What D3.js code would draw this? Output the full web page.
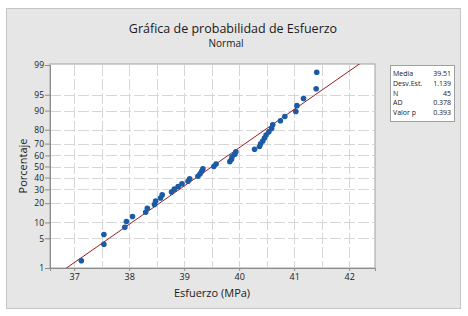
<!DOCTYPE html>
<html>
<head>
<meta charset="utf-8">
<script src="https://cdn.jsdelivr.net/npm/d3@7"></script>
<style>
    body { margin: 0; background: #ffffff; }
    text { font-family: "Open Sans", "Noto Sans", sans-serif; fill: #1a1a1a; }
</style>
</head>
<body>
<script>
// Esfuerzo values (MPa), sorted
const esfuerzo = [
    37.13, 37.54, 37.54, 37.92, 37.95, 38.06, 38.30, 38.33, 38.46, 38.48,
    38.57, 38.60, 38.77, 38.82, 38.89, 38.96, 39.07, 39.10, 39.25, 39.29,
    39.32, 39.34, 39.54, 39.58, 39.83, 39.86, 39.87, 39.92, 39.94, 40.28,
    40.37, 40.39, 40.43, 40.46, 40.49, 40.54, 40.59, 40.61, 40.75, 40.83,
    41.03, 41.05, 41.17, 41.40, 41.41
];

// Summary table
const statLabels = ["Media", "Desv.Est.", "N", "AD", "Valor p"];
const statValues = ["39.51", "1.139", "45", "0.378", "0.393"];
const media = 39.51;
const desvEst = 1.139;

// Tick labels
const xTicks = [37, 38, 39, 40, 41, 42];
const yTicks = [1, 5, 10, 20, 30, 40, 50, 60, 70, 80, 90, 95, 99];

// Inverse normal CDF (Acklam) used for the probability axis
function probit(p) {
    const a = [-3.969683028665376e+01, 2.209460984245205e+02, -2.759285104469687e+02, 1.383577518672690e+02, -3.066479806614716e+01, 2.506628277459239e+00];
    const b = [-5.447609879822406e+01, 1.615858368580409e+02, -1.556989798598866e+02, 6.680131188771972e+01, -1.328068155288572e+01];
    const c = [-7.784894002430293e-03, -3.223964580411365e-01, -2.400758277161838e+00, -2.549732539343734e+00, 4.374664141464968e+00, 2.938163982698783e+00];
    const d = [7.784695709041462e-03, 3.224671290700398e-01, 2.445134137142996e+00, 3.754408661907416e+00];
    const pl = 0.02425;
    let q, r;
    if (p < pl) {
        q = Math.sqrt(-2 * Math.log(p));
        return (((((c[0]*q+c[1])*q+c[2])*q+c[3])*q+c[4])*q+c[5]) / ((((d[0]*q+d[1])*q+d[2])*q+d[3])*q+1);
    }
    if (p > 1 - pl) {
        q = Math.sqrt(-2 * Math.log(1 - p));
        return -(((((c[0]*q+c[1])*q+c[2])*q+c[3])*q+c[4])*q+c[5]) / ((((d[0]*q+d[1])*q+d[2])*q+d[3])*q+1);
    }
    q = p - 0.5;
    r = q * q;
    return (((((a[0]*r+a[1])*r+a[2])*r+a[3])*r+a[4])*r+a[5])*q / (((((b[0]*r+b[1])*r+b[2])*r+b[3])*r+b[4])*r+1);
}

// Median rank plotting positions (Minitab default)
const n = esfuerzo.length;
const points = esfuerzo.map((v, i) => ({ x: v, p: (i + 1 - 0.3) / (n + 0.4) }));

const W = 468, H = 316;
const plot = { left: 50, right: 375, top: 64, bottom: 268 };

const svg = d3.select("body").append("svg")
    .attr("width", W)
    .attr("height", H);

// Figure background
svg.append("rect")
    .attr("x", 6.5).attr("y", 8.5)
    .attr("width", 454).attr("height", 300)
    .attr("fill", "#e6e6e6")
    .attr("stroke", "#c4c4c4");

// Plot area
svg.append("rect")
    .attr("x", plot.left).attr("y", plot.top)
    .attr("width", plot.right - plot.left).attr("height", plot.bottom - plot.top)
    .attr("fill", "#ffffff")
    .attr("stroke", "#a0a0a0");

// Scales
const xScale = d3.scaleLinear()
    .domain([36.56, 42.47])
    .range([plot.left, plot.right]);

const zMax = probit(0.99);
const yScale = d3.scaleLinear()
    .domain([-zMax, zMax])
    .range([plot.bottom, plot.top + 1]);

// Grid lines
const grid = svg.append("g")
    .attr("stroke", "#d6d6d6")
    .attr("stroke-width", 1)
    .attr("stroke-dasharray", "11,3");

grid.selectAll(".vgrid")
    .data(d3.range(37, 42.5, 0.5))
    .enter().append("line")
    .attr("x1", d => Math.round(xScale(d)) + 0.5)
    .attr("x2", d => Math.round(xScale(d)) + 0.5)
    .attr("y1", plot.top + 1)
    .attr("y2", plot.bottom);

grid.selectAll(".hgrid")
    .data(yTicks.filter(d => d > 1 && d < 99))
    .enter().append("line")
    .attr("x1", plot.left)
    .attr("x2", plot.right)
    .attr("y1", d => Math.round(yScale(probit(d / 100))) + 0.5)
    .attr("y2", d => Math.round(yScale(probit(d / 100))) + 0.5);

// Axes
const xAxis = d3.axisBottom(xScale)
    .tickValues(xTicks)
    .tickSize(3)
    .tickFormat(d3.format("d"));

const gx = svg.append("g")
    .attr("transform", "translate(0," + plot.bottom + ")")
    .call(xAxis);
gx.select(".domain").attr("stroke", "#8c8c8c");
gx.selectAll(".tick line").attr("stroke", "#8c8c8c");
gx.selectAll(".tick text")
    .attr("y", 6)
    .style("font-size", "9px")
    .style("fill", "#1a1a1a");

const yAxis = d3.axisLeft(d3.scaleLinear().domain(yScale.domain()).range(yScale.range()))
    .tickValues(yTicks.map(d => probit(d / 100)))
    .tickSize(5)
    .tickFormat((d, i) => yTicks[i]);

const gy = svg.append("g")
    .attr("transform", "translate(" + plot.left + ",0)")
    .call(yAxis);
gy.select(".domain").attr("stroke", "#8c8c8c");
gy.selectAll(".tick line").attr("stroke", "#8c8c8c");
gy.selectAll(".tick text")
    .attr("x", -6)
    .style("font-size", "8.5px")
    .style("fill", "#1a1a1a");

// Fitted normal line
svg.append("defs").append("clipPath")
    .attr("id", "clip")
    .append("rect")
    .attr("x", plot.left).attr("y", plot.top)
    .attr("width", plot.right - plot.left).attr("height", plot.bottom - plot.top);

const fitZ = [-zMax - 0.2, zMax + 0.2];
svg.append("path")
    .datum(fitZ)
    .attr("clip-path", "url(#clip)")
    .attr("fill", "none")
    .attr("stroke", "#9b1c1c")
    .attr("stroke-width", 1)
    .attr("d", d3.line()
        .x(z => xScale(media + z * desvEst))
        .y(z => yScale(z)));

// Data points
svg.selectAll(".pt")
    .data(points)
    .enter().append("circle")
    .attr("class", "pt")
    .attr("cx", d => xScale(d.x))
    .attr("cy", d => yScale(probit(d.p)))
    .attr("r", 2.8)
    .attr("fill", "#1b5aa5");

// Titles
svg.append("text")
    .attr("x", 233).attr("y", 33)
    .attr("text-anchor", "middle")
    .style("font-size", "12.5px")
    .text("Gráfica de probabilidad de Esfuerzo");

svg.append("text")
    .attr("x", 226).attr("y", 47)
    .attr("text-anchor", "middle")
    .style("font-size", "10px")
    .text("Normal");

svg.append("text")
    .attr("x", 212).attr("y", 297)
    .attr("text-anchor", "middle")
    .style("font-size", "11px")
    .text("Esfuerzo (MPa)");

svg.append("text")
    .attr("transform", "translate(27,166) rotate(-90)")
    .attr("text-anchor", "middle")
    .style("font-size", "11px")
    .text("Porcentaje");

// Summary box
svg.append("rect")
    .attr("x", 390.5).attr("y", 65.5)
    .attr("width", 64).attr("height", 56)
    .attr("fill", "#ffffff")
    .attr("stroke", "#a0a0a0");

const rowY = d3.scalePoint()
    .domain(statLabels)
    .range([76, 115]);

svg.selectAll(".stat-label")
    .data(statLabels)
    .enter().append("text")
    .attr("x", 393)
    .attr("y", d => rowY(d))
    .style("font-size", "7px")
    .text(d => d);

svg.selectAll(".stat-value")
    .data(statValues)
    .enter().append("text")
    .attr("x", 451)
    .attr("y", (d, i) => rowY(statLabels[i]))
    .attr("text-anchor", "end")
    .style("font-size", "7px")
    .text(d => d);
</script>
</body>
</html>
